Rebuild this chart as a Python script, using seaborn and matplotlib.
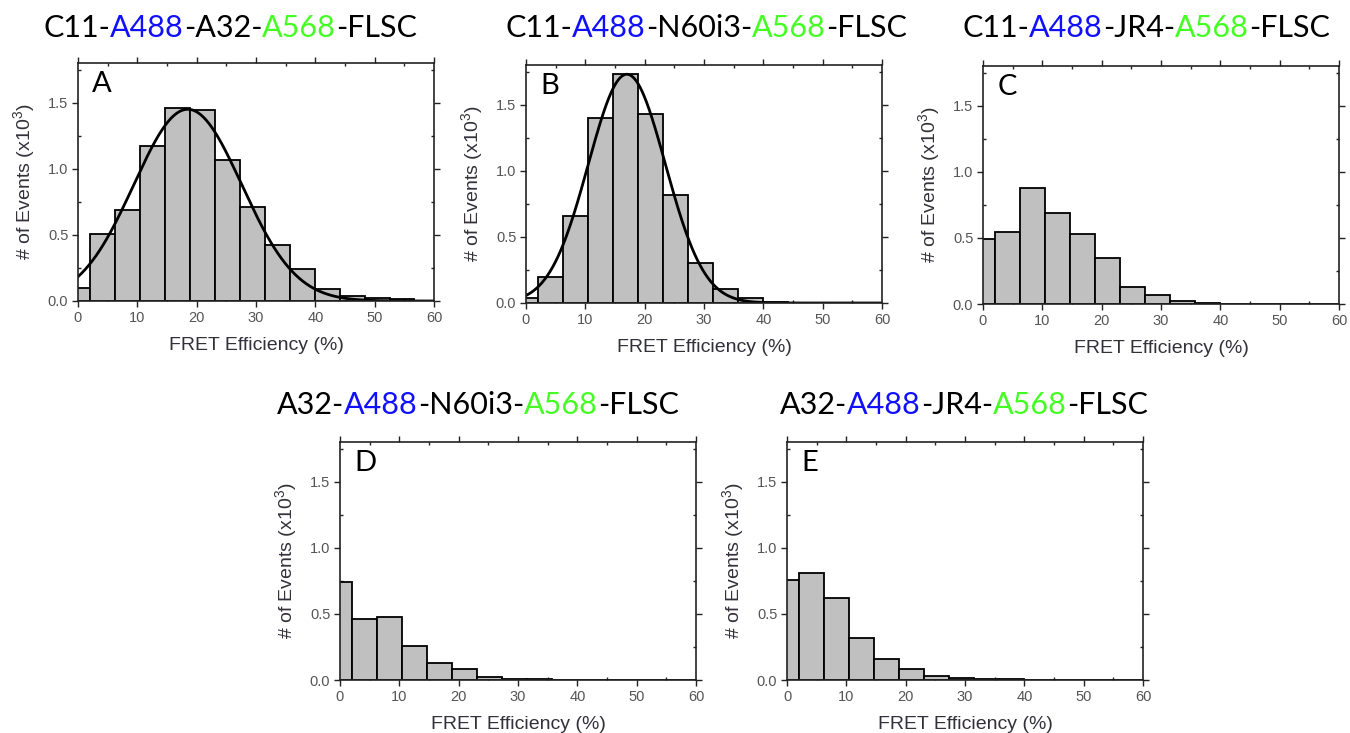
import numpy as np
import pandas as pd
import matplotlib
matplotlib.use("Agg")
import matplotlib.pyplot as plt
import seaborn as sns

# bin layout shared by all histograms (FRET efficiency, %)
bin_width = 4.2
n_bins = 15
bin_centers = np.arange(n_bins) * bin_width

# event counts per bin (x10^3)
counts_A = [0.10, 0.51, 0.69, 1.17, 1.46, 1.445, 1.07, 0.71, 0.425, 0.24, 0.09, 0.04, 0.02, 0.012, 0.0]
counts_B = [0.04, 0.20, 0.66, 1.40, 1.73, 1.43, 0.815, 0.30, 0.105, 0.04, 0.005, 0.0, 0.0, 0.0, 0.0]
counts_C = [0.495, 0.544, 0.875, 0.686, 0.533, 0.35, 0.13, 0.07, 0.023, 0.01, 0.0, 0.0, 0.0, 0.0, 0.0]
counts_D = [0.74, 0.458, 0.48, 0.256, 0.13, 0.081, 0.02, 0.01, 0.008, 0.0, 0.0, 0.0, 0.0, 0.0, 0.0]
counts_E = [0.755, 0.81, 0.62, 0.316, 0.162, 0.081, 0.03, 0.013, 0.01, 0.008, 0.0, 0.0, 0.0, 0.0, 0.0]

# gaussian fits shown in A and B: (center, sigma, amplitude)
fit_A = (18.5, 9.1, 1.45)
fit_B = (17.0, 6.5, 1.73)

panel_letters = ["A", "B", "C", "D", "E"]
panel_counts = [counts_A, counts_B, counts_C, counts_D, counts_E]
panel_fits = [fit_A, fit_B, None, None, None]

# titles as (text, colour) pieces
BLUE = "#1010ff"
GREEN = "#44ff22"
panel_titles = [
    [("C11-", "black"), ("A488", BLUE), ("-A32-", "black"), ("A568", GREEN), ("-FLSC", "black")],
    [("C11-", "black"), ("A488", BLUE), ("-N60i3-", "black"), ("A568", GREEN), ("-FLSC", "black")],
    [("C11-", "black"), ("A488", BLUE), ("-JR4-", "black"), ("A568", GREEN), ("-FLSC", "black")],
    [("A32-", "black"), ("A488", BLUE), ("-N60i3-", "black"), ("A568", GREEN), ("-FLSC", "black")],
    [("A32-", "black"), ("A488", BLUE), ("-JR4-", "black"), ("A568", GREEN), ("-FLSC", "black")],
]

sns.set_style("white")
plt.rcParams["font.family"] = ["Liberation Sans", "DejaVu Sans"]
plt.rcParams["mathtext.default"] = "regular"

W, H = 1350, 733
fig = plt.figure(figsize=(W / 100, H / 100), dpi=100)

# axes boxes in pixels: left, top
boxes = [(78, 63), (526, 65), (983, 66), (340, 442), (787, 442)]
ax_w, ax_h = 356, 238
title_pos = [(230, 28), (706, 28), (1146, 28), (478, 405), (964, 405)]

axes = []
for (lx, ty), counts, fit, letter in zip(boxes, panel_counts, panel_fits, panel_letters):
    ax = fig.add_axes([lx / W, 1 - (ty + ax_h) / H, ax_w / W, ax_h / H])
    df = pd.DataFrame({"fret": bin_centers, "events": counts})
    sns.histplot(data=df, x="fret", weights="events", binwidth=bin_width,
                 binrange=(-bin_width / 2, n_bins * bin_width - bin_width / 2), ax=ax,
                 color="#c0c0c0", edgecolor="black", linewidth=1.3, alpha=1)
    if fit is not None:
        xc, sig, amp = fit
        xs = np.linspace(0, 60, 400)
        fit_df = pd.DataFrame({"x": xs, "y": amp * np.exp(-(xs - xc) ** 2 / (2 * sig ** 2))})
        sns.lineplot(data=fit_df, x="x", y="y", ax=ax, color="black", linewidth=2)

    ax.set_xlim(0, 60)
    ax.set_ylim(0, 1.8)
    ax.set_xticks([0, 10, 20, 30, 40, 50, 60])
    ax.set_xticks([5, 15, 25, 35, 45, 55], minor=True)
    ax.set_yticks([0.0, 0.5, 1.0, 1.5])
    ax.set_yticks([0.25, 0.75, 1.25, 1.75], minor=True)
    ax.set_yticklabels(["0.0", "0.5", "1.0", "1.5"])
    ax.xaxis.set_ticks_position("both")
    ax.yaxis.set_ticks_position("both")
    ax.tick_params(which="major", direction="out", length=4, width=1, color="#222222",
                   labelsize=10.5, labelcolor="#555555", pad=3)
    ax.tick_params(which="minor", direction="in", length=2.5, width=1, color="#222222")
    for sp in ax.spines.values():
        sp.set_color("#222222")
        sp.set_linewidth(1.2)
    ax.set_xlabel("FRET Efficiency (%)", fontsize=14, color="#33303a", labelpad=9)
    ax.set_ylabel("# of Events (x10$^{3}$)", fontsize=14, color="#33303a", labelpad=8)
    ax.text(0.04, 0.965, letter, transform=ax.transAxes, ha="left", va="top",
            fontsize=21, family=["Lato", "DejaVu Sans"], color="black")
    axes.append(ax)

# multicolour titles, placed piece by piece
fig.canvas.draw()
renderer = fig.canvas.get_renderer()
for (cx, cy), pieces in zip(title_pos, panel_titles):
    widths = []
    texts = []
    for s, c in pieces:
        t = fig.text(0, 0, s, color=c, fontsize=22, family=["Lato", "DejaVu Sans"],
                     va="center", ha="left")
        bb = t.get_window_extent(renderer)
        widths.append(bb.width)
        texts.append(t)
    total = sum(widths)
    x = cx - total / 2
    for t, w in zip(texts, widths):
        t.set_position((x / W, 1 - cy / H))
        x += w

fig.savefig("out.png", dpi=100)
